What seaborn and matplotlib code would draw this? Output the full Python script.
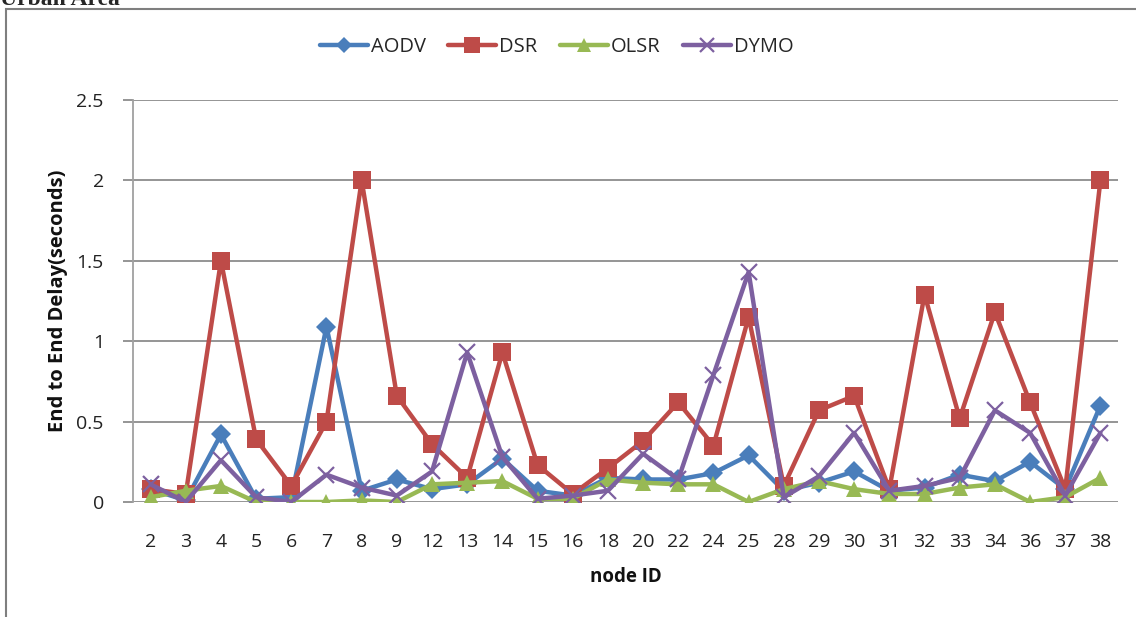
import matplotlib
matplotlib.use("Agg")
import matplotlib.pyplot as plt
import seaborn as sns
import pandas as pd
from matplotlib.patches import Rectangle

node_ids = ["2", "3", "4", "5", "6", "7", "8", "9", "12", "13", "14", "15", "16", "18",
            "20", "22", "24", "25", "28", "29", "30", "31", "32", "33", "34", "36", "37", "38"]
aodv = [0.08, 0.01, 0.42, 0.02, 0.03, 1.09, 0.07, 0.14, 0.08, 0.11, 0.27, 0.07, 0.04, 0.15,
        0.14, 0.14, 0.18, 0.29, 0.07, 0.12, 0.19, 0.07, 0.09, 0.17, 0.13, 0.25, 0.08, 0.60]
dsr = [0.08, 0.05, 1.50, 0.39, 0.10, 0.50, 2.00, 0.66, 0.36, 0.15, 0.93, 0.23, 0.05, 0.21,
       0.38, 0.62, 0.35, 1.15, 0.10, 0.57, 0.66, 0.08, 1.29, 0.52, 1.18, 0.62, 0.08, 2.00]
olsr = [0.03, 0.07, 0.10, 0.00, 0.00, 0.00, 0.01, 0.00, 0.11, 0.12, 0.13, 0.02, 0.02, 0.14,
        0.12, 0.11, 0.11, 0.00, 0.08, 0.13, 0.08, 0.05, 0.05, 0.09, 0.11, 0.00, 0.03, 0.15]
dymo = [0.11, 0.00, 0.26, 0.03, 0.00, 0.17, 0.09, 0.04, 0.19, 0.93, 0.28, 0.02, 0.04, 0.07,
        0.30, 0.14, 0.79, 1.43, 0.03, 0.16, 0.43, 0.07, 0.10, 0.15, 0.57, 0.43, 0.04, 0.43]
series_names = ["AODV", "DSR", "OLSR", "DYMO"]
y_ticks = [0, 0.5, 1, 1.5, 2, 2.5]
y_tick_labels = ["0", "0.5", "1", "1.5", "2", "2.5"]

sns.set_theme(style="white")
plt.rcParams["font.family"] = ["Open Sans", "DejaVu Sans"]

frames = []
for name, vals in zip(series_names, [aodv, dsr, olsr, dymo]):
    frames.append(pd.DataFrame({"node": node_ids, "delay": vals, "protocol": name}))
df = pd.concat(frames, ignore_index=True)

colors = {"AODV": "#4A7EBB", "DSR": "#BE4B48", "OLSR": "#98B954", "DYMO": "#7D60A0"}
markers = {"AODV": "D", "DSR": "s", "OLSR": "^", "DYMO": "x"}
msizes = {"AODV": 10, "DSR": 13, "OLSR": 11.5, "DYMO": 12}

fig = plt.figure(figsize=(11.36, 6.17), dpi=100)
ax = fig.add_axes([133 / 1136, 1 - 502 / 617, (1118 - 133) / 1136, (502 - 100) / 617])

for name in series_names:
    sub = df[df["protocol"] == name]
    mew = 1.6 if name == "DYMO" else 0
    sns.lineplot(data=sub, x="node", y="delay", color=colors[name], linewidth=3.2,
                 sort=False, ax=ax, label=name, marker=markers[name],
                 markersize=msizes[name], markeredgewidth=mew,
                 markeredgecolor=colors[name])

ax.set_xlim(-0.5, len(node_ids) - 0.5)
ax.set_ylim(0, 2.5)
ax.set_yticks(y_ticks)
ax.set_yticklabels(y_tick_labels)
ax.yaxis.grid(True, color="#8c8c8c", linewidth=1.3)
ax.set_axisbelow(True)
for s in ["top", "right", "bottom"]:
    ax.spines[s].set_visible(False)
ax.spines["left"].set_color("#a0a0a0")
ax.spines["left"].set_linewidth(1.3)
ax.tick_params(axis="y", which="both", left=True, length=7, width=1.3, color="#8c8c8c",
               labelsize=14, pad=14, labelcolor="#222222")
ax.tick_params(axis="x", bottom=False, labelsize=14, pad=16, labelcolor="#222222")
ax.set_xlabel("node ID", fontsize=13.5, fontweight="bold", labelpad=12, color="#111111")
ax.set_ylabel("End to End Delay(seconds)", fontsize=14.5, fontweight="bold", labelpad=6,
              color="#111111")
ax.get_legend().remove()

handles, labels = ax.get_legend_handles_labels()
fig.legend(handles, labels, loc="center", bbox_to_anchor=(0.49, 0.924), ncol=4,
           frameon=False, fontsize=14.5, handlelength=2.4, columnspacing=1.1,
           handletextpad=0.15, markerscale=0.85)

fig.patches.append(Rectangle((6 / 1136, -0.1), 1.2, 1 - 9 / 617 + 0.1, transform=fig.transFigure,
                             fill=False, edgecolor="#7f7f7f", linewidth=1.5, zorder=0))
fig.text(0.0, 1 - 5 / 617, "Urban Area", fontsize=17, fontweight="bold",
         family=["Liberation Serif", "DejaVu Serif"], ha="left", va="baseline")

fig.savefig("out.png", dpi=100)
